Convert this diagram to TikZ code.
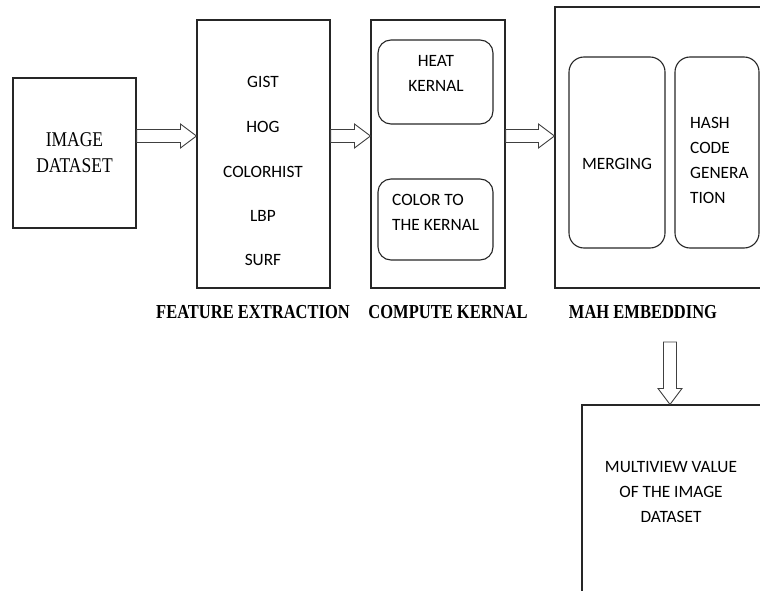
\documentclass[tikz,border=0pt]{standalone}
\usepackage{graphicx}
\usepackage{fontspec}
\setmainfont{Liberation Serif}
\newfontfamily\calib{Carlito}
\usetikzlibrary{calc,positioning}

\newcommand\tallword[1]{\scalebox{1}[1.2]{#1}}

\tikzset{
  box/.style={draw=black!85, line width=1.1pt, rectangle, inner sep=0pt},
  softbox/.style={box, rounded corners=13pt},
  itemtext/.style={font=\calib\fontsize{17.3}{25}\selectfont, inner sep=0pt},
  steplabel/.style={font=\bfseries\fontsize{16.5}{20}\selectfont, inner sep=0pt},
  fatarrow/.style={draw=black!75, line width=0.9pt, line join=miter,
    to path={
      ($(\tikztostart)!6.5pt!90:(\tikztotarget)$)
      -- ($(\tikztotarget)!16pt!(\tikztostart)!6.5pt!90:(\tikztotarget)$)
      -- ($(\tikztotarget)!16pt!(\tikztostart)!12pt!90:(\tikztotarget)$)
      -- (\tikztotarget)
      -- ($(\tikztotarget)!16pt!(\tikztostart)!12pt!-90:(\tikztotarget)$)
      -- ($(\tikztotarget)!16pt!(\tikztostart)!6.5pt!-90:(\tikztotarget)$)
      -- ($(\tikztostart)!6.5pt!-90:(\tikztotarget)$)
      -- cycle}}
}

\begin{document}
\begin{tikzpicture}[x=1pt, y=-1pt]
  \useasboundingbox (0,0) rectangle (760,591);

  \node[box, minimum width=123pt, minimum height=150pt, align=center,
        font=\fontsize{17.5}{26}\selectfont] (img) at (74.5,153) {\tallword{IMAGE}\\\tallword{DATASET}};

  \node[box, minimum width=133pt, minimum height=268pt] (feat) at (263.5,154) {};
  \node[itemtext] (gist) at (263,82) {GIST};
  \node[itemtext] (hog) at (263,127) {HOG};
  \node[itemtext] (colorhist) at (263,172) {COLORHIST};
  \node[itemtext] (lbp) at (263,216) {LBP};
  \node[itemtext] (surf) at (263,260) {SURF};

  \node[box, minimum width=134pt, minimum height=268pt] (kern) at (438,154) {};
  \node[softbox, minimum width=115pt, minimum height=84pt] (heat) at (435.5,82) {};
  \node[itemtext, align=center] (heattxt) at (436,73.5) {HEAT\\KERNAL};
  \node[softbox, minimum width=115pt, minimum height=81pt] (colk) at (435.5,219.5) {};
  \node[itemtext, align=left, anchor=west] (colktxt) at (392,212.5) {COLOR TO\\THE KERNAL};

  \node[box, minimum width=225pt, minimum height=281pt] (mah) at (667.5,147.5) {};
  \node[softbox, rounded corners=15pt, minimum width=96pt, minimum height=191pt] (merge) at (617,152.5) {};
  \node[itemtext] (mergetxt) at (617,164) {MERGING};
  \node[softbox, rounded corners=15pt, minimum width=84pt, minimum height=191pt] (hash) at (717,152.5) {};
  \node[itemtext, align=left, anchor=west] (hashtxt) at (690,160) {HASH\\CODE\\GENERA\\TION};

  \node[box, minimum width=198pt, minimum height=215pt] (multi) at (681,512.5) {};
  \node[itemtext, align=center] (multitxt) at (671,492) {MULTIVIEW VALUE\\OF THE IMAGE\\DATASET};

  \node[steplabel] (featlbl) at (253,312) {\tallword{FEATURE EXTRACTION}};
  \node[steplabel] (kernlbl) at (448,312) {\tallword{COMPUTE KERNAL}};
  \node[steplabel] (mahlbl) at (643,312) {\tallword{MAH EMBEDDING}};

  \coordinate (row) at (0,136);
  \coordinate (drop) at (670,342);
  \draw[fatarrow] (img.east |- row) to (feat.west |- row);
  \draw[fatarrow] (feat.east |- row) to (kern.west |- row);
  \draw[fatarrow] (kern.east |- row) to (mah.west |- row);
  \draw[fatarrow] (drop) to (drop |- multi.north);
\end{tikzpicture}
\end{document}
